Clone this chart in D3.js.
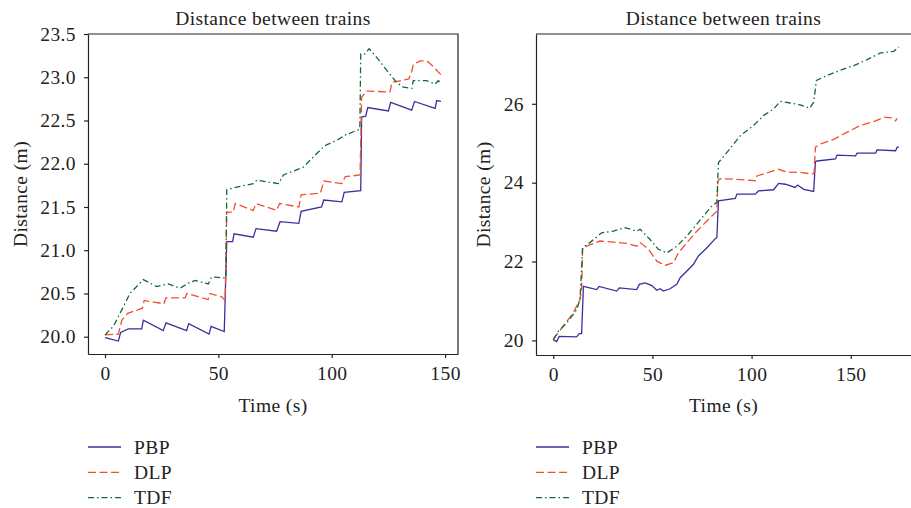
<!DOCTYPE html>
<html>
<head>
<meta charset="utf-8">
<script src="https://cdn.jsdelivr.net/npm/d3@7"></script>
<style>
  body { margin: 0; background: #fff; }
  svg text { font-family: "Liberation Serif", "Times New Roman", serif; fill: #222; letter-spacing: 0.4px; }
  .axis path, .axis line { stroke: #222; stroke-width: 1.2; }
  .axis text { font-size: 19.5px; }
</style>
</head>
<body>
<div id="viz"></div>
<script>
// series names + tick labels
const seriesNames = ['PBP', 'DLP', 'TDF'];
const xTicks = [0, 50, 100, 150];
const leftYTicks = [20.0, 20.5, 21.0, 21.5, 22.0, 22.5, 23.0, 23.5];
const rightYTicks = [20, 22, 24, 26];

// left panel: [time (s), distance (m)]
const leftPBP = [[0,19.99],[5.9,19.95],[6.9,20.05],[10.3,20.09],[16.2,20.09],[16.9,20.19],[25.7,20.07],[26.9,20.16],
  [36,20.07],[36.9,20.15],[45.9,20.03],[46.8,20.12],[52.6,20.06],[53.7,21.1],[56.3,21.1],[56.9,21.19],[65.4,21.15],
  [66.6,21.25],[75.7,21.22],[77.2,21.33],[85.5,21.31],[86.5,21.45],[95.5,21.5],[96.5,21.58],[104.5,21.56],[105.5,21.67],
  [112.8,21.69],[113.2,22.54],[115,22.55],[115.9,22.65],[125,22.61],[126,22.71],[135.3,22.62],[136.5,22.72],
  [145.6,22.64],[146.3,22.73],[148.2,22.72]];
const leftDLP = [[0,20.02],[5.9,20.03],[7.4,20.19],[10,20.27],[16.5,20.33],[17.3,20.42],[26,20.38],[26.8,20.45],
  [35.3,20.45],[36.2,20.5],[45.5,20.43],[46.3,20.5],[51.5,20.46],[53,20.42],[53.7,21.44],[56.6,21.44],[57.4,21.54],
  [65.4,21.46],[66.6,21.54],[75.7,21.46],[77,21.54],[85.5,21.5],[86.5,21.64],[95,21.66],[96.5,21.8],[104.4,21.77],
  [106,21.85],[112.5,21.87],[113.2,22.77],[115.5,22.84],[125.7,22.83],[126.5,22.94],[134,22.98],[135.3,23.07],
  [136,23.15],[139,23.19],[142,23.19],[145,23.12],[147,23.06],[148.5,23.02]];
const leftTDF = [[0,20.02],[3.7,20.12],[7.4,20.31],[11,20.5],[16.9,20.66],[22.8,20.58],[27.9,20.61],[33.1,20.56],
  [36.8,20.62],[39.7,20.65],[45.6,20.61],[47,20.69],[52.2,20.68],[53.3,20.68],[53.7,21.7],[58.1,21.73],[65.4,21.77],
  [67,21.81],[76.5,21.77],[78.7,21.87],[87.5,21.96],[91.9,22.08],[97,22.21],[102.2,22.27],[105.9,22.33],[109.6,22.37],
  [112.4,22.4],[112.8,23.27],[114.7,23.27],[116.5,23.33],[119.8,23.23],[124.3,23.08],[128,22.96],[130.9,22.89],
  [135.3,22.87],[136,22.96],[141.9,22.96],[145.6,22.92],[147,22.96],[148,22.94]];

// right panel
const rightPBP = [[0,20.02],[1.7,19.97],[3,20.1],[11.8,20.09],[13.1,20.17],[14.3,20.17],[15.2,21.37],[21.9,21.29],
  [23.1,21.37],[32,21.25],[33.3,21.33],[42.1,21.29],[43.4,21.42],[46.3,21.46],[49.7,21.39],[52.2,21.27],[53.9,21.31],
  [55.5,21.25],[58.9,21.31],[62.3,21.42],[64,21.59],[67.4,21.76],[70.7,21.93],[73.2,22.14],[77.5,22.35],[81.7,22.58],
  [82.5,22.61],[83.3,23.54],[91.8,23.6],[92.6,23.71],[101.9,23.71],[103.5,23.79],[111.1,23.82],[113.6,23.98],
  [117,23.96],[122,23.88],[123.2,23.94],[126.3,23.83],[131.3,23.78],[132.2,24.53],[133,24.55],[142.3,24.6],
  [143.1,24.7],[152.4,24.68],[153.2,24.75],[162.5,24.75],[163.3,24.83],[172.6,24.81],[173.4,24.9],[174.3,24.9]];
const rightDLP = [[0,20.02],[5,20.36],[10.1,20.7],[13.5,21.04],[14.3,21.33],[14.8,22.35],[16.9,22.39],[23.6,22.52],
  [30.3,22.49],[32.8,22.48],[37,22.46],[42.1,22.39],[43.8,22.48],[48,22.31],[52.2,22.01],[56.4,21.9],[60.6,21.97],
  [63.1,22.22],[67.4,22.48],[72.4,22.77],[77.5,23.03],[81.7,23.24],[82.5,23.27],[83,24.05],[84.2,24.1],[90.9,24.09],
  [101.9,24.05],[102.7,24.17],[113.6,24.34],[117.9,24.27],[124.6,24.26],[130.5,24.22],[131.5,24.24],[132.2,24.9],
  [134.7,24.98],[141.4,25.1],[148.2,25.28],[154.9,25.45],[161.6,25.55],[166.7,25.66],[170.9,25.64],[172.6,25.57],
  [173.4,25.63]];
const rightTDF = [[0,20.02],[2.5,20.23],[6.8,20.44],[11.8,20.78],[13.5,21.04],[14.8,22.35],[18.5,22.48],[24.4,22.73],
  [30.3,22.77],[36.2,22.86],[42.1,22.77],[43.8,22.82],[48.8,22.56],[53,22.31],[57.3,22.22],[62.3,22.39],[67.4,22.65],
  [71.6,22.9],[75.8,23.16],[80,23.41],[82.5,23.5],[83.3,24.51],[87.6,24.77],[94.3,25.19],[101,25.45],[106,25.7],
  [111.1,25.87],[114.5,26.06],[119.5,26.02],[124.6,25.97],[129.3,25.89],[131.3,26.04],[132.7,26.59],[138.1,26.72],
  [144.8,26.85],[151.5,26.97],[158.3,27.12],[165,27.29],[171.7,27.33],[174.3,27.44]];

const colors = ['#3b2f9f', '#f0502f', '#11683a'];
const dashes = [null, '8,3.5', '6,3,1.5,3'];

const width = 911;
const height = 508;

const svg = d3.select('#viz')
  .append('svg')
  .attr('width', width)
  .attr('height', height);

function drawPanel(opts) {
  const x = d3.scaleLinear().domain(opts.xDomain).range([opts.left, opts.right]);
  const y = d3.scaleLinear().domain(opts.yDomain).range([opts.bottom, opts.top]);
  const g = svg.append('g');

  // frame (top + right)
  g.append('path')
    .attr('d', `M${opts.left},${opts.top}H${opts.right}V${opts.bottom}`)
    .attr('fill', 'none')
    .attr('stroke', '#222')
    .attr('stroke-width', 1.2);

  g.append('g')
    .attr('class', 'axis')
    .attr('transform', `translate(0,${opts.bottom})`)
    .call(d3.axisBottom(x).tickValues(xTicks).tickSizeInner(4).tickSizeOuter(0).tickPadding(8));

  g.append('g')
    .attr('class', 'axis')
    .attr('transform', `translate(${opts.left},0)`)
    .call(d3.axisLeft(y).tickValues(opts.yTicks).tickFormat(opts.yFormat)
      .tickSizeInner(4).tickSizeOuter(0).tickPadding(8));

  const line = d3.line().x(d => x(d[0])).y(d => y(d[1]));

  opts.series.forEach((s, i) => {
    g.append('path')
      .datum(s)
      .attr('d', line)
      .attr('fill', 'none')
      .attr('stroke', colors[i])
      .attr('stroke-width', 1.3)
      .attr('stroke-dasharray', dashes[i]);
  });

  const cx = (opts.left + Math.min(opts.right, width)) / 2;
  g.append('text')
    .attr('x', cx).attr('y', 25)
    .attr('text-anchor', 'middle')
    .style('font-size', '19.5px')
    .text('Distance between trains');

  g.append('text')
    .attr('x', cx).attr('y', 412)
    .attr('text-anchor', 'middle')
    .style('font-size', '19.5px')
    .text('Time (s)');

  g.append('text')
    .attr('transform', `translate(${opts.yLabelX},${(opts.top + opts.bottom) / 2}) rotate(-90)`)
    .attr('text-anchor', 'middle')
    .style('font-size', '19.5px')
    .text('Distance (m)');

  // legend
  const legend = g.append('g')
    .attr('transform', `translate(${opts.left},0)`);
  seriesNames.forEach((name, i) => {
    const ly = 447 + i * 25.3;
    legend.append('line')
      .attr('x1', 0).attr('x2', 33)
      .attr('y1', ly).attr('y2', ly)
      .attr('stroke', colors[i])
      .attr('stroke-width', 1.3)
      .attr('stroke-dasharray', dashes[i]);
    legend.append('text')
      .attr('x', 46).attr('y', ly + 6.5)
      .style('font-size', '19.5px')
      .text(name);
  });
}

drawPanel({
  left: 88, right: 458, top: 34, bottom: 354,
  xDomain: [-7.5, 155.7], yDomain: [19.8, 23.5],
  yTicks: leftYTicks, yFormat: d3.format('.1f'), yLabelX: 27,
  series: [leftPBP, leftDLP, leftTDF],
});

drawPanel({
  left: 536, right: 915, top: 34, bottom: 355,
  xDomain: [-8.7, 182.4], yDomain: [19.63, 27.77],
  yTicks: rightYTicks, yFormat: d3.format('d'), yLabelX: 490,
  series: [rightPBP, rightDLP, rightTDF],
});
</script>
</body>
</html>
